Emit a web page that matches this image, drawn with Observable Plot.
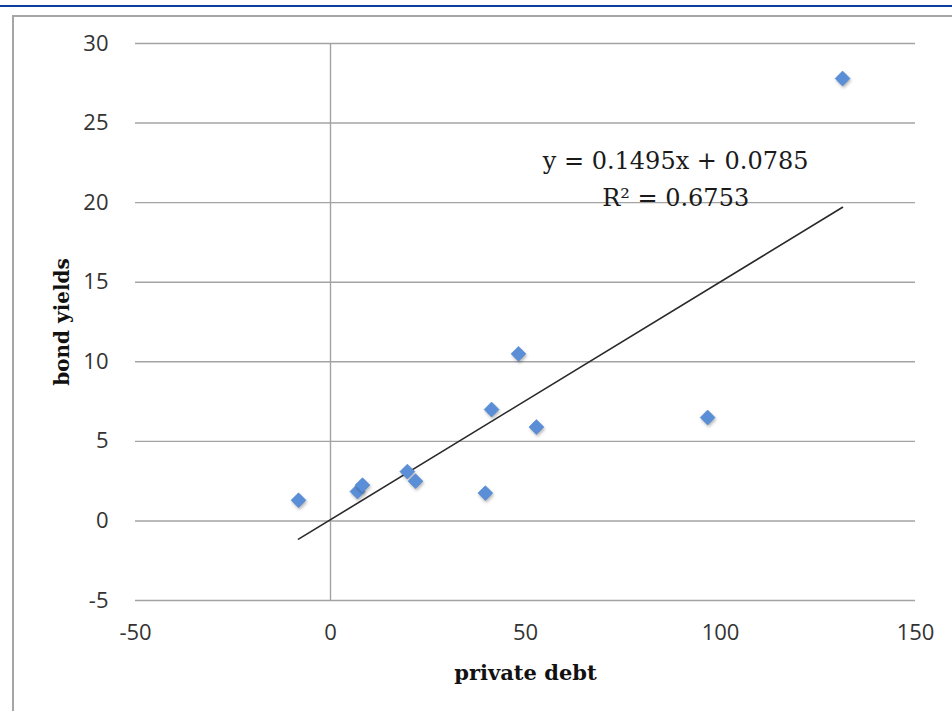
<!DOCTYPE html>
<html>
<head>
<meta charset="utf-8">
<script src="https://cdn.jsdelivr.net/npm/d3@7"></script>
<script src="https://cdn.jsdelivr.net/npm/@observablehq/plot@0.6"></script>
<style>
  html, body { margin: 0; padding: 0; background: #fff; }
  #wrap { position: relative; width: 952px; height: 711px; overflow: hidden; }
  #topline { position: absolute; left: 0; top: 5px; width: 952px; height: 0; border-top: 2px solid #0b3d9a; }
  #frame { position: absolute; left: 12px; top: 15px; width: 960px; height: 720px; border: 2px solid #a6a6a6; box-sizing: border-box; }
  #chart { position: absolute; left: 0; top: 0; }
  #chart g[aria-label="dot"] path { filter: drop-shadow(1px 2px 1.5px rgba(0,0,0,0.28)); }
</style>
</head>
<body>
<div id="wrap">
  <div id="topline"></div>
  <div id="frame"></div>
  <div id="chart"></div>
</div>
<script>
// data
const privateDebt = [-8.2, 6.9, 8.2, 19.7, 21.8, 39.7, 41.3, 48.2, 52.8, 96.7, 131.3];
const bondYields  = [1.3, 1.85, 2.25, 3.1, 2.5, 1.75, 7.0, 10.5, 5.9, 6.5, 27.8];
const xTicks = [-50, 0, 50, 100, 150];
const yTicks = [-5, 0, 5, 10, 15, 20, 25, 30];
const trendSlope = 0.1495;
const trendIntercept = 0.0785;
const equationLines = ["y = 0.1495x + 0.0785", "R² = 0.6753"];
const equationAnchorX = [88.5, 88.5];
const equationAnchorY = [22.6, 20.3];
const xTitle = "private debt";
const yTitle = "bond yields";

const points = privateDebt.map((x, i) => ({x, y: bondYields[i]}));
const xMin = d3.min(privateDebt), xMax = d3.max(privateDebt);
const trend = [xMin, xMax].map(x => ({x, y: trendSlope * x + trendIntercept}));
const eq = equationLines.map((t, i) => ({t, x: equationAnchorX[i], y: equationAnchorY[i]}));

const tickFont = "'Open Sans', 'Liberation Sans', sans-serif";
const plainFormat = d => String(d);

const chart = Plot.plot({
  width: 952,
  height: 711,
  marginLeft: 135,
  marginRight: 37,
  marginTop: 43,
  marginBottom: 111,
  style: { fontFamily: tickFont, fontSize: "22px", color: "#333", background: "transparent", overflow: "visible" },
  x: { domain: [-50, 150], ticks: xTicks, tickFormat: plainFormat, tickSize: 0, tickPadding: 24, label: null },
  y: { domain: [-5, 30], ticks: yTicks, tickFormat: plainFormat, tickSize: 0, tickPadding: 27, label: null },
  marks: [
    Plot.gridY(yTicks, { stroke: "#a3a3a3", strokeOpacity: 1, strokeWidth: 1.4 }),
    Plot.ruleX([0], { stroke: "#a3a3a3", strokeWidth: 1.4 }),
    Plot.line(trend, { x: "x", y: "y", stroke: "#2a2a2a", strokeWidth: 1.6 }),
    Plot.dot(points, { x: "x", y: "y", symbol: "diamond2", r: 6.7, fill: "#5a8fd8", stroke: "#4f84cf", strokeWidth: 0.6 }),
    Plot.text(eq, { x: "x", y: "y", text: "t", fontFamily: "'DejaVu Serif', serif", fontSize: 24, fill: "#1a1a1a" }),
    Plot.text([xTitle], { frameAnchor: "bottom", dy: 73, lineAnchor: "middle", text: d => d, fontFamily: "'DejaVu Serif', serif", fontWeight: "bold", fontSize: 21, fill: "#111" }),
    Plot.text([yTitle], { frameAnchor: "left", dx: -73, rotate: -90, textAnchor: "middle", lineAnchor: "middle", text: d => d, fontFamily: "'DejaVu Serif', serif", fontWeight: "bold", fontSize: 20, fill: "#111" })
  ]
});
document.getElementById("chart").appendChild(chart);
</script>
</body>
</html>
